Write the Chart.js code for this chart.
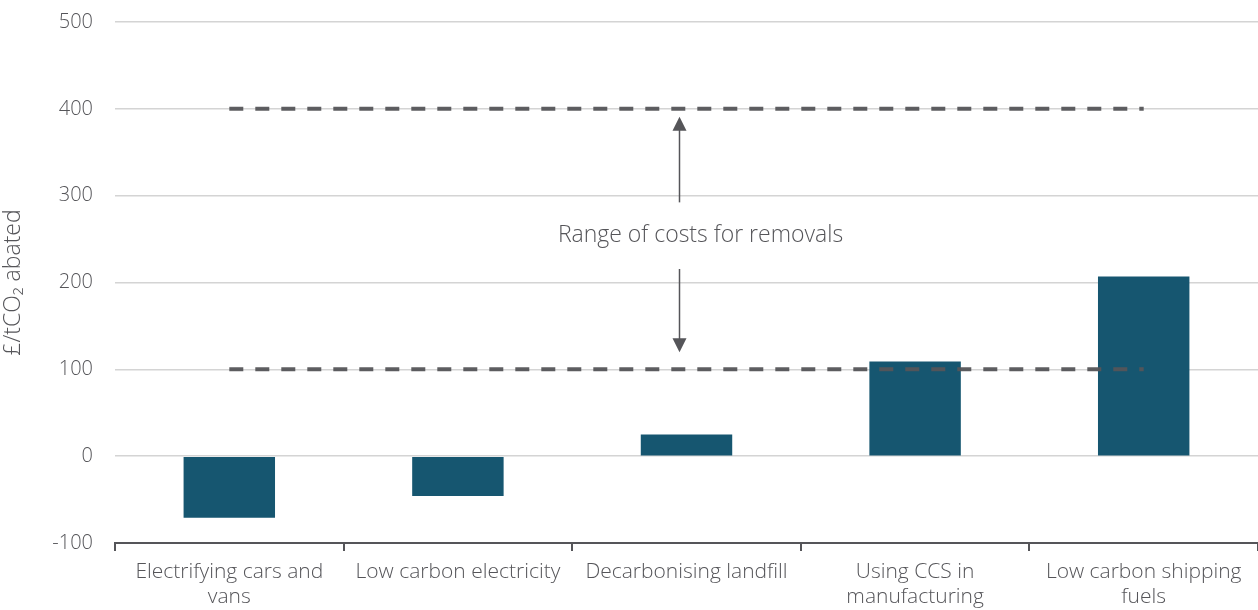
<!DOCTYPE html>
<html>
<head>
<meta charset="utf-8">
<script src="https://cdn.jsdelivr.net/npm/chart.js@4"></script>
<style>
  html, body { margin: 0; padding: 0; background: #fff; }
  #wrap { width: 1258px; height: 610px; }
</style>
</head>
<body>
<div id="wrap"><canvas id="myChart" width="1258" height="610"></canvas></div>
<script>
// -- data --
const categories = [
    ['Electrifying cars and', 'vans'],
    'Low carbon electricity',
    'Decarbonising landfill',
    ['Using CCS in', 'manufacturing'],
    ['Low carbon shipping', 'fuels']
];
const costs      = [-71, -46, 25, 109, 207];
const upperRange = [400, 400, 400, 400, 400];
const lowerRange = [100, 100, 100, 100, 100];
const yTicks     = [-100, 0, 100, 200, 300, 400, 500];
const rangeLabel = 'Range of costs for removals';

const GREY = '#555559';
const FONT = "'Open Sans', sans-serif";

// arrows + label between the two dashed lines
const rangeNote = {
    id: 'rangeNote',
    afterDatasetsDraw(chart) {
        const { ctx, scales: { x, y } } = chart;
        const cx = x.getPixelForValue(2) - 7;
        const yTop = y.getPixelForValue(lowerRange[0] + (upperRange[0] - lowerRange[0]) * 0.545);
        const yBot = y.getPixelForValue(lowerRange[0] + (upperRange[0] - lowerRange[0]) * 0.485);
        const yHi  = y.getPixelForValue(upperRange[0]) + 8;
        const yLo  = y.getPixelForValue(lowerRange[0]) - 17;
        ctx.save();
        ctx.strokeStyle = GREY; ctx.fillStyle = GREY; ctx.lineWidth = 1.5;
        // up arrow
        ctx.beginPath(); ctx.moveTo(cx, yTop - 25); ctx.lineTo(cx, yHi + 12); ctx.stroke();
        ctx.beginPath(); ctx.moveTo(cx, yHi); ctx.lineTo(cx - 7, yHi + 14); ctx.lineTo(cx + 7, yHi + 14); ctx.closePath(); ctx.fill();
        // down arrow
        ctx.beginPath(); ctx.moveTo(cx, yBot + 26); ctx.lineTo(cx, yLo - 12); ctx.stroke();
        ctx.beginPath(); ctx.moveTo(cx, yLo); ctx.lineTo(cx - 7, yLo - 14); ctx.lineTo(cx + 7, yLo - 14); ctx.closePath(); ctx.fill();
        // text
        ctx.font = '300 23px ' + FONT;
        ctx.textAlign = 'center'; ctx.textBaseline = 'middle';
        ctx.fillText(rangeLabel, cx + 21, (yTop + yBot) / 2);
        ctx.restore();
    }
};

const ctx = document.getElementById('myChart').getContext('2d');
new Chart(ctx, {
    type: 'bar',
    data: {
        labels: categories,
        datasets: [
            { type: 'bar', data: costs, backgroundColor: '#165670',
              barPercentage: 0.4, categoryPercentage: 1, order: 2 },
            { type: 'line', data: upperRange, borderColor: 'rgba(85,85,89,0.95)',
              borderWidth: 4, borderDash: [14, 12], pointRadius: 0, order: 1 },
            { type: 'line', data: lowerRange, borderColor: 'rgba(85,85,89,0.95)',
              borderWidth: 4, borderDash: [14, 12], pointRadius: 0, order: 1 }
        ]
    },
    options: {
        responsive: false,
        animation: false,
        layout: { padding: { top: 22, right: 0, left: 0, bottom: 0 } },
        plugins: { legend: { display: false }, tooltip: { enabled: false } },
        scales: {
            x: {
                offset: true,
                grid: { display: true, offset: true, drawOnChartArea: false, drawTicks: true,
                        tickLength: 8, color: GREY, lineWidth: 2 },
                border: { display: true, color: GREY, width: 2 },
                ticks: { color: GREY, font: { family: FONT, size: 21, weight: 300, lineHeight: 1.2 },
                         maxRotation: 0, autoSkip: false, padding: 8 },
                afterFit: s => { s.height = 67; s.paddingLeft = 0; s.paddingRight = 0; }
            },
            y: {
                min: yTicks[0], max: yTicks[yTicks.length - 1],
                afterBuildTicks: s => { s.ticks = yTicks.map(v => ({ value: v })); },
                grid: { color: '#d4d4d4', lineWidth: 1.5, drawTicks: false },
                border: { display: false },
                ticks: { color: GREY, font: { family: FONT, size: 20, weight: 300 }, padding: 22 },
                title: { display: true, text: '£/tCO₂ abated', color: GREY,
                         font: { family: FONT, size: 23, weight: 300 }, padding: { top: 0, bottom: 2 } },
                afterFit: s => { s.width = 115; s.paddingTop = 0; s.paddingBottom = 0; }
            }
        }
    },
    plugins: [rangeNote]
});
</script>
</body>
</html>
